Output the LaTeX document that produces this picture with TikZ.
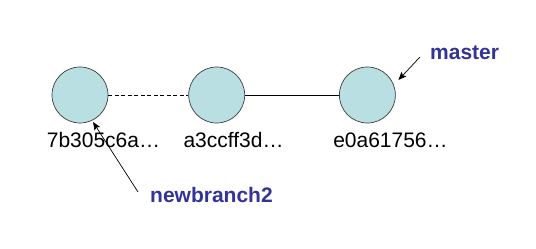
\documentclass[tikz,border=0pt]{standalone}
\usepackage{fontspec}
\setmainfont{Liberation Sans}
\usepackage{xcolor}
\definecolor{commitfill}{HTML}{B9DFE2}
\definecolor{commitline}{HTML}{3C3C3C}
\definecolor{refblue}{HTML}{333399}
\usepackage{tikz}
\usetikzlibrary{arrows.meta,positioning,calc}
\tikzset{
  >={Stealth[length=8pt,width=6.5pt,inset=1.5pt]},
  commit/.style={circle,draw=commitline,fill=commitfill,line width=0.7pt,minimum size=56pt,inner sep=0pt},
  hash/.style={font=\fontsize{21}{24}\selectfont,inner sep=0pt,anchor=base west},
  ref/.style={font=\fontsize{21}{24}\selectfont\bfseries\color{refblue},inner sep=0pt,anchor=base west},
  link/.style={draw=black,line width=0.8pt},
  arr/.style={->,draw=black,line width=0.7pt},
}
\begin{document}
\begin{tikzpicture}[x=1pt,y=1pt]
\useasboundingbox (0,0) rectangle (536,249);
% three commits in a row
\node[commit] (c1) at (80,154) {};
\node[commit,right=80pt of c1] (c2) {};
\node[commit,right=94pt of c2] (c3) {};
\draw[link,dash pattern=on 4pt off 2.5pt] (c1.east) -- (c2.west);
\draw[link] (c2.east) -- (c3.west);
% abbreviated hashes
\node[hash] (h1) at ([shift={(-5,-53)}]c1.west) {7b305c6a…};
\node[hash] (h2) at ([shift={(-5,-53)}]c2.west) {a3ccff3d…};
\node[hash] (h3) at ([shift={(-6,-53)}]c3.west) {e0a61756…};
% branch refs
\node[ref] (master) at (430,189) {master};
\node[ref] (nb2) at (150,46) {newbranch2};
\coordinate (mtail) at ([shift={(-10,3)}]master.base west);
\coordinate (mtip) at ([shift={(31,15)}]c3.center);
\coordinate (ntail) at ([shift={(-12,11)}]nb2.base west);
\coordinate (ntip) at ([shift={(13,-27)}]c1.center);
\draw[arr] (mtail) -- (mtip);
\draw[arr] (ntail) -- (ntip);
\end{tikzpicture}
\end{document}
